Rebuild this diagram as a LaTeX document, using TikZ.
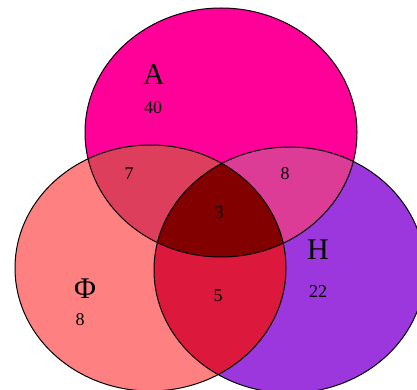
\documentclass[tikz,border=0pt]{standalone}
\usepackage{fontspec}
\setmainfont{Liberation Serif}
\definecolor{cA}{RGB}{255,0,153}
\definecolor{cF}{RGB}{255,128,128}
\definecolor{cH}{RGB}{155,55,220}
\definecolor{cAF}{RGB}{220,62,92}
\definecolor{cAH}{RGB}{220,60,150}
\definecolor{cFH}{RGB}{220,25,60}
\definecolor{cAFH}{RGB}{130,0,0}
\begin{document}
\begin{tikzpicture}[x=1pt,y=-1pt,
  big/.style={font=\fontsize{30}{30}\selectfont, inner sep=0pt},
  num/.style={font=\fontsize{18}{18}\selectfont, inner sep=0pt},
  outline/.style={draw=black, line width=1pt}]
\useasboundingbox (0,0) rectangle (417,390);
\clip (0,0) rectangle (417,390);
\def\shA{(221,132.5) ellipse [x radius=136pt, y radius=124.5pt]}
\def\shF{(150.5,268) ellipse [x radius=135.5pt, y radius=123pt]}
\def\shH{(289.5,270) ellipse [x radius=135.5pt, y radius=123pt]}
% single sets
\fill[cA] \shA;
\fill[cF] \shF;
\fill[cH] \shH;
% pairwise
\begin{scope}\clip \shA; \fill[cAF] \shF; \fill[cAH] \shH; \end{scope}
\begin{scope}\clip \shF; \fill[cFH] \shH; \end{scope}
\begin{scope}\clip \shA; \clip \shF; \fill[cAFH] \shH; \end{scope}
% outlines
\draw[outline] \shA;
\draw[outline] \shF;
\draw[outline] \shH;
% labels
\node[big] (lA) at (154,75) {A};
\node[num] (nA) at (153,108) {40};
\node[num] (nAF) at (129,174) {7};
\node[num] (nAH) at (285,174) {8};
\node[num] (nAFH) at (219,213) {3};
\node[big] (lH) at (318,250) {H};
\node[num] (nH) at (318,292) {22};
\node[big] (lF) at (85,289) {Φ};
\node[num] (nF) at (80,320) {8};
\node[num] (nFH) at (218,296) {5};
\end{tikzpicture}
\end{document}
